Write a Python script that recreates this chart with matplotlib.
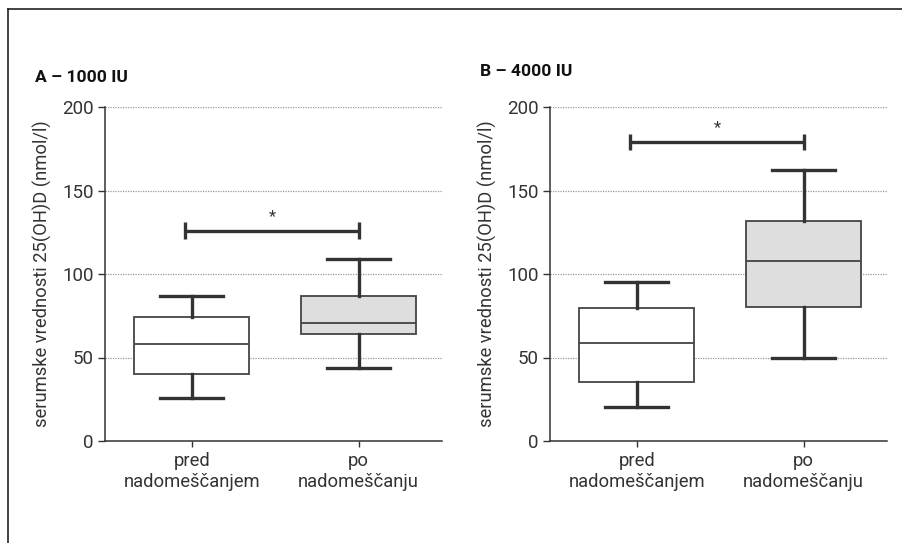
import matplotlib
matplotlib.use("Agg")
import matplotlib.pyplot as plt
from matplotlib.lines import Line2D

# podatki (ocenjeni iz slike)
categories = ["pred\nnadomeščanjem", "po\nnadomeščanju"]
titles = ["A – 1000 IU", "B – 4000 IU"]

# A - 1000 IU: [whislo, q1, med, q3, whishi]
a_pred = [26, 40, 58, 74, 87]
a_po = [44, 64, 70.5, 87, 109]
# B - 4000 IU
b_pred = [20.5, 35.5, 58.5, 79.5, 95]
b_po = [50, 80, 108, 132, 162.5]

sig_levels = [126, 179]
yticks = [0, 50, 100, 150, 200]
ylabel = "serumske vrednosti 25(OH)D (nmol/l)"

plt.rcParams['font.family'] = ['Roboto', 'DejaVu Sans']
dark = "#333333"
fill_colors = ["white", "#dedede"]


def make_stats(vals, label):
    lo, q1, med, q3, hi = vals
    return dict(label=label, whislo=lo, q1=q1, med=med, q3=q3, whishi=hi, fliers=[])


fig = plt.figure(figsize=(9.03, 5.43), dpi=100)

# okvir (levo in zgoraj)
fig.add_artist(Line2D([7.5 / 903, 7.5 / 903], [0, 1 - 8.5 / 543], color="#222222", lw=1.2))
fig.add_artist(Line2D([7.5 / 903, 1], [1 - 8.5 / 543, 1 - 8.5 / 543], color="#222222", lw=1.2))

panels = [(a_pred, a_po), (b_pred, b_po)]
lefts = [105 / 903, 550 / 903]
title_pos = [(35 / 903, 1 - 77 / 543), (480 / 903, 1 - 72 / 543)]

for i, (pred, po) in enumerate(panels):
    ax = fig.add_axes([lefts[i], 1 - 441 / 543, 337 / 903, 334 / 543])
    stats = [make_stats(pred, categories[0]), make_stats(po, categories[1])]
    bp = ax.bxp(stats, positions=[1, 2], widths=0.69, patch_artist=True,
                showfliers=False,
                boxprops=dict(edgecolor="#444444", linewidth=1.3),
                medianprops=dict(color="#444444", linewidth=1.3),
                whiskerprops=dict(color="#333333", linewidth=2.4),
                capprops=dict(color="#333333", linewidth=2.4),
                capwidths=0.38)
    for patch, c in zip(bp["boxes"], fill_colors):
        patch.set_facecolor(c)

    # oznaka statisticne znacilnosti
    y = sig_levels[i]
    ax.plot([0.96, 2.0], [y, y], color="#333333", lw=2.4, solid_capstyle="butt")
    ax.plot([0.96, 0.96], [y - 5, y + 5], color="#333333", lw=2.4, solid_capstyle="butt")
    ax.plot([2.0, 2.0], [y - 5, y + 5], color="#333333", lw=2.4, solid_capstyle="butt")
    ax.text(1.485, y + 4, "*", ha="center", va="bottom", fontsize=12, color=dark)

    ax.set_xlim(0.48, 2.5)
    ax.set_ylim(0, 200)
    ax.set_yticks(yticks)
    ax.set_xticks([1, 2])
    ax.set_xticklabels(categories, fontsize=13.2, color=dark, linespacing=1.2)
    ax.tick_params(axis="y", labelsize=13.5, labelcolor=dark, length=5, width=1, color=dark, pad=3)
    ax.tick_params(axis="x", length=4, width=1, color=dark, pad=4)
    ax.yaxis.grid(True, color="#999999", linestyle=(0, (1, 1)), linewidth=0.9)
    ax.set_axisbelow(True)
    for s in ["top", "right"]:
        ax.spines[s].set_visible(False)
    for s in ["left", "bottom"]:
        ax.spines[s].set_color(dark)
        ax.spines[s].set_linewidth(1.1)
    ax.set_ylabel(ylabel, fontsize=13.2, color=dark)
    ax.yaxis.set_label_coords(-53 / 337, 0.5)

    fig.text(title_pos[i][0], title_pos[i][1], titles[i], fontsize=12.6, fontweight="bold",
             color="#111111", ha="left", va="center")

fig.savefig("out.png", dpi=100)
